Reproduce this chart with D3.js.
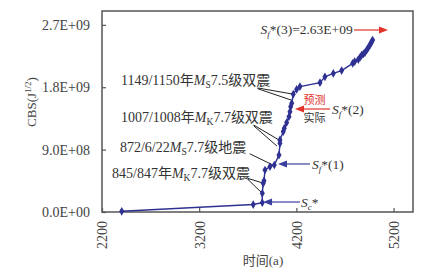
<!DOCTYPE html>
<html><head><meta charset="utf-8">
<script src="https://cdn.jsdelivr.net/npm/d3@7"></script>
<style>
html,body{margin:0;padding:0;background:#fff;}
svg text{font-family:"Liberation Serif","DejaVu Serif","Times New Roman",serif,"Noto Sans CJK SC" !important;}
</style></head>
<body><svg id="c" width="423" height="272"></svg>
<script>
// ---- data ----
const years = [2403,3756,3849,3849,3859,3867,3877,3928,3973,4021,4031,4031,4065,4076,4100,4124,4134,4141,4152,4168,4203,4237,4443,4494,4580,4666,4779,4800,4837,4855,4872,4890,4906,4925,4940,4957,4965,4975,4985];
const cbs   = [1.0e7,1.08e8,1.34e8,2.7e8,4.14e8,4.5e8,6.06e8,6.54e8,6.78e8,8.22e8,9.91e8,1.04e9,1.16e9,1.21e9,1.29e9,1.375e9,1.447e9,1.52e9,1.568e9,1.70e9,1.77e9,1.81e9,1.866e9,1.95e9,2.0e9,2.04e9,2.145e9,2.17e9,2.2e9,2.23e9,2.265e9,2.28e9,2.3e9,2.34e9,2.37e9,2.41e9,2.43e9,2.457e9,2.48e9];
const xTicks = [2200,3200,4200,5200];
const yTicks = [0,9.0e8,1.8e9,2.7e9];
const xTitle = "时间(a)";
// event labels
const eventLabels = [
  {x:2395, y:1.905e9, pre:"1149/1150年", M:"S", post:"7.5级双震"},
  {x:2395, y:1.371e9, pre:"1007/1008年", M:"K", post:"7.7级双震"},
  {x:2385, y:9.38e8,  pre:"872/6/22",     M:"S", post:"7.7级地震"},
  {x:2303, y:5.63e8,  pre:"845/847年",   M:"K", post:"7.7级双震"}
];
// leader lines [x1,y1,x2,y2] in data units
const leaders = [
  [3800,1.79e9,4155,1.703e9],[3800,1.78e9,4145,1.616e9],
  [3760,1.255e9,4021,1.039e9],[3760,1.245e9,4000,9.52e8],
  [3720,8.40e8,3959,6.78e8],
  [3700,4.85e8,3856,4.18e8],[3700,4.72e8,3846,2.74e8]
];
// arrows
const arrows = [
  {x1:4793, x2:5143, y:2.626e9, c:"#e2322a"},
  {x1:4546, x2:4186, y:1.486e9, c:"#e2322a"},
  {x1:4340, x2:4011, y:6.93e8,  c:"#3b3f9e"},
  {x1:4237, x2:3857, y:1.44e8,  c:"#3b3f9e"}
];

// ---- layout ----
const FONT = '"Liberation Serif","DejaVu Serif","Times New Roman",serif';
const m = {l:102, t:11, w:311, h:201};
const svg = d3.select("#c");
const x = d3.scaleLinear().domain([2200,5400]).range([m.l, m.l+m.w]);
const y = d3.scaleLinear().domain([0,2.9e9]).range([m.t+m.h, m.t]);
const fmt = d => {
  if (d===0) return "0.0E+00";
  const e = Math.floor(Math.log10(d)+1e-9);
  return (d/Math.pow(10,e)).toFixed(1)+"E+"+String(e).padStart(2,"0");
};
const axisCol = "#555";

const ya = svg.append("g").attr("transform",`translate(${m.l},0)`)
  .call(d3.axisLeft(y).tickValues(yTicks).tickSize(-4).tickPadding(12).tickFormat(fmt));
ya.attr("font-family",FONT);
ya.select(".domain").remove();
ya.selectAll("line").attr("stroke",axisCol).attr("stroke-width",1.2);
ya.selectAll("text").attr("fill","#444").style("font-size","14px");

const xa = svg.append("g").attr("transform",`translate(0,${m.t+m.h})`)
  .call(d3.axisBottom(x).tickValues(xTicks).tickSize(-4).tickFormat(d3.format("d")));
xa.attr("font-family",FONT);
xa.select(".domain").remove();
xa.selectAll("line").attr("stroke",axisCol).attr("stroke-width",1.2);
xa.selectAll("text").attr("fill","#444").style("font-size","14px")
  .attr("transform","rotate(-90)").attr("text-anchor","end")
  .attr("x",-9).attr("y",0).attr("dy","0.35em");

svg.append("rect").attr("x",m.l).attr("y",m.t).attr("width",m.w).attr("height",m.h)
  .attr("fill","none").attr("stroke",axisCol).attr("stroke-width",1.5);

svg.append("text").attr("x",263).attr("y",265).attr("text-anchor","middle")
  .attr("fill","#444").style("font-size","13px").text(xTitle);
const yt = svg.append("text").attr("transform","translate(36,102) rotate(-90)")
  .attr("text-anchor","middle").attr("fill","#444").style("font-size","13px");
yt.append("tspan").text("CBS(J");
yt.append("tspan").attr("dy","-5").style("font-size","9px").text("1/2");
yt.append("tspan").attr("dy","5").text(")");

svg.append("g").selectAll("line").data(leaders).join("line")
  .attr("x1",d=>x(d[0])).attr("y1",d=>y(d[1])).attr("x2",d=>x(d[2])).attr("y2",d=>y(d[3]))
  .attr("stroke","#222").attr("stroke-width",1);

const pts = years.map((v,i)=>[v,cbs[i]]);
const navy = "#2e3192";
svg.append("path").datum(pts).attr("fill","none").attr("stroke",navy).attr("stroke-width",1.4)
  .attr("d", d3.line().x(d=>x(d[0])).y(d=>y(d[1])));
svg.append("g").selectAll("path").data(pts).join("path")
  .attr("transform",d=>`translate(${x(d[0])},${y(d[1])})`)
  .attr("d", d3.symbol(d3.symbolDiamond, 22)).attr("fill",navy);

const el = svg.append("g").selectAll("text").data(eventLabels).join("text")
  .attr("x",d=>x(d.x)).attr("y",d=>y(d.y)).attr("dy","0.35em")
  .attr("fill","#333").style("font-size","14px");
el.append("tspan").text(d=>d.pre);
el.append("tspan").style("font-style","italic").text("M");
el.append("tspan").attr("dy","3").style("font-size","9.5px").text(d=>d.M);
el.append("tspan").attr("dy","-3").text(d=>d.post);

const ag = svg.append("g");
arrows.forEach(a=>{
  const X1=x(a.x1), X2=x(a.x2), Y=y(a.y), dir = X2>X1?1:-1;
  ag.append("line").attr("x1",X1).attr("y1",Y).attr("x2",X2-dir*6).attr("y2",Y)
    .attr("stroke",a.c).attr("stroke-width",1.2);
  ag.append("path").attr("d",`M${X2},${Y}L${X2-dir*9},${Y-3.5}L${X2-dir*9},${Y+3.5}Z`).attr("fill",a.c);
});

function sLabel(xv, yv, sub, rest, anchor){
  const t = svg.append("text").attr("x",x(xv)).attr("y",y(yv)).attr("dy","0.35em")
    .attr("text-anchor",anchor||"start").attr("fill","#333").style("font-size","13.5px");
  t.append("tspan").style("font-style","italic").text("S");
  t.append("tspan").attr("dy","3").style("font-size","9px").style("font-style","italic").text(sub);
  t.append("tspan").attr("dy","-3").text(rest);
}
sLabel(4780, 2.63e9, "f", "*(3)=2.63E+09", "end");
sLabel(4566, 1.486e9, "f", "*(2)");
sLabel(4361, 6.93e8, "f", "*(1)");
sLabel(4247, 1.44e8, "c", "*");
svg.append("text").attr("x",x(4386)).attr("y",y(1.616e9)).attr("dy","0.35em").attr("text-anchor","middle")
  .attr("fill","#e2322a").style("font-size","11px").text("预测");
svg.append("text").attr("x",x(4386)).attr("y",y(1.356e9)).attr("dy","0.35em").attr("text-anchor","middle")
  .attr("fill","#333").style("font-size","11px").text("实际");
</script></body></html>
